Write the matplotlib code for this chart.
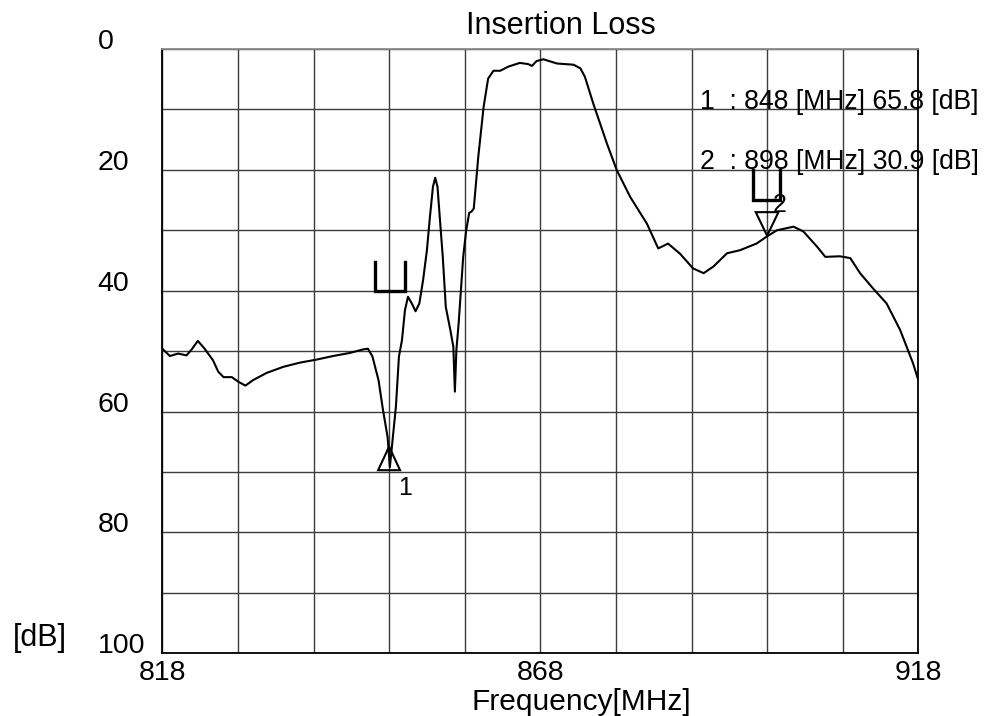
import matplotlib
matplotlib.use('Agg')
import matplotlib.pyplot as plt
from matplotlib.patches import Polygon
import numpy as np

# ---- data ----
freq_mhz = [818.0, 819.0, 820.1, 821.2, 821.9, 822.7, 823.6, 824.7, 825.4, 826.1,
            827.2, 828.1, 829.0, 830.0, 831.8, 834.0, 836.2, 838.4, 840.6, 842.8,
            844.6, 845.2, 845.8, 846.6, 847.2, 847.8, 848.1, 848.5, 848.9, 849.3,
            849.7, 850.1, 850.5, 851.0, 851.5, 852.0, 852.5, 853.0, 853.4, 853.8,
            854.1, 854.4, 854.7, 855.1, 855.5, 856.1, 856.5, 856.7, 856.9, 857.2,
            857.5, 857.8, 858.2, 858.6, 858.9, 859.2, 859.8, 860.5, 861.1, 861.8,
            862.7, 863.8, 865.3, 866.4, 866.9, 867.5, 868.4, 870.2, 872.4, 873.3,
            873.9, 875.0, 876.8, 878.1, 879.9, 882.1, 883.6, 884.9, 886.5, 888.2,
            889.6, 890.9, 892.7, 894.4, 896.6, 898.0, 899.3, 901.5, 902.8, 904.6,
            905.7, 907.6, 909.0, 910.3, 912.0, 913.8, 915.6, 917.3, 918.0]
loss_db = [49.6, 50.8, 50.4, 50.7, 49.7, 48.3, 49.6, 51.5, 53.4, 54.3,
           54.3, 55.1, 55.7, 54.8, 53.6, 52.6, 51.9, 51.4, 50.8, 50.3,
           49.7, 49.6, 50.9, 54.8, 59.8, 64.2, 69.2, 64.2, 59.2, 50.9,
           48.2, 43.2, 41.0, 42.1, 43.4, 42.1, 38.2, 33.3, 27.8, 22.8,
           21.3, 22.8, 27.8, 34.4, 42.7, 46.5, 49.3, 56.7, 49.8, 45.4,
           39.9, 34.4, 30.0, 27.1, 26.9, 26.4, 17.8, 9.6, 4.9, 3.6,
           3.6, 2.9, 2.3, 2.5, 2.8, 2.0, 1.7, 2.4, 2.6, 3.2,
           4.6, 9.0, 15.6, 20.0, 24.5, 28.9, 33.0, 32.2, 33.9, 36.3,
           37.1, 36.0, 33.8, 33.3, 32.2, 31.0, 30.0, 29.4, 30.2, 32.7,
           34.4, 34.3, 34.6, 37.1, 39.6, 42.1, 46.5, 52.0, 54.8]

x_grid = list(range(818, 919, 10))
y_grid = list(range(0, 101, 10))
x_labels = ['818', '', '', '', '', '868', '', '', '', '', '918']
y_labels = ['0', '', '20', '', '40', '', '60', '', '80', '', '100']

marker_ids = ['1', '2']
marker_freq = [848, 898]
marker_db = [65.8, 30.9]

plt.rcParams['font.family'] = ['Liberation Sans', 'DejaVu Sans']

fig = plt.figure(figsize=(9.84, 7.16), dpi=100)
ax = fig.add_axes([162.3 / 984, 1 - 653.3 / 716, (918.3 - 162.3) / 984, (653.3 - 49) / 716])
ax.set_xlim(818, 918)
ax.set_ylim(100, 0)

ax.set_xticks(x_grid)
ax.set_xticklabels(x_labels, fontsize=20.5)
ax.set_yticks(y_grid)
ax.set_yticklabels(y_labels, fontsize=20.5)
ax.tick_params(axis='x', length=0, pad=5)
ax.tick_params(axis='y', length=0, pad=46.5)
for lbl in ax.get_yticklabels():
    lbl.set_horizontalalignment('left')
    lbl.set_verticalalignment('baseline')

ax.grid(True, color='#3c3c3c', linewidth=1.0, zorder=1)
ax.set_axisbelow(True)
for side in ['left', 'bottom', 'right']:
    ax.spines[side].set_color('black')
    ax.spines[side].set_linewidth(1.3)
ax.spines['top'].set_color('#8a8a8a')
ax.spines['top'].set_linewidth(1.3)

# trace
ax.plot(freq_mhz, loss_db, color='black', linewidth=1.5, zorder=3)

# marker 1 (triangle pointing up at the point)
f1, d1 = marker_freq[0], marker_db[0]
ax.add_patch(Polygon([(f1 - 1.45, d1 + 3.9), (f1 + 1.45, d1 + 3.9), (f1, d1)],
                     closed=True, fill=False, edgecolor='black', linewidth=1.5, zorder=4))
ax.text(f1 + 1.2, d1 + 8.0, marker_ids[0], fontsize=18, ha='left', va='baseline')
ax.plot([f1 - 1.9, f1 - 1.9, f1 + 2.1, f1 + 2.1], [35.2, 40.0, 40.0, 35.2],
        color='black', linewidth=2.4, solid_joinstyle='miter', zorder=4)

# marker 2 (triangle pointing down at the point)
f2, d2 = marker_freq[1], marker_db[1]
ax.add_patch(Polygon([(f2 - 1.5, d2 - 3.9), (f2 + 1.5, d2 - 3.9), (f2, d2)],
                     closed=True, fill=False, edgecolor='black', linewidth=1.5, zorder=4))
ax.text(f2 + 0.8, d2 - 3.9, marker_ids[1], fontsize=18, ha='left', va='baseline')
ax.plot([f2 - 1.8, f2 - 1.8, f2 + 1.7, f2 + 1.7], [20.0, 25.0, 25.0, 20.0],
        color='black', linewidth=2.4, solid_joinstyle='miter', zorder=4)

# marker readouts
ax.text(889.1, 10.0, '1  : %d [MHz] %.1f [dB]' % (marker_freq[0], marker_db[0]),
        fontsize=19.2, ha='left', va='baseline', zorder=5)
ax.text(889.1, 19.8, '2  : %d [MHz] %.1f [dB]' % (marker_freq[1], marker_db[1]),
        fontsize=19.2, ha='left', va='baseline', zorder=5)

# titles / axis labels
fig.text(561 / 984, 1 - 34 / 716, 'Insertion Loss', fontsize=22, ha='center', va='baseline')
fig.text(581 / 984, 1 - 710 / 716, 'Frequency[MHz]', fontsize=21.5, ha='center', va='baseline')
fig.text(13 / 984, 1 - 646 / 716, '[dB]', fontsize=22, ha='left', va='baseline')

fig.savefig('out.png', dpi=100, facecolor='white')
